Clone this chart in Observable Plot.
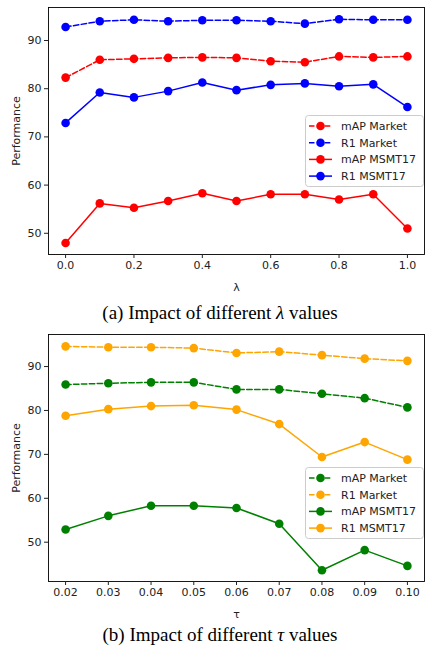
<!DOCTYPE html>
<html><head><meta charset="utf-8">
<script src="https://cdn.jsdelivr.net/npm/d3@7"></script>
<script src="https://cdn.jsdelivr.net/npm/@observablehq/plot@0.6"></script>
<style>
body{margin:0;background:#fff;}
#wrap{position:relative;width:425px;height:651px;overflow:hidden;background:#fff;}
.fig{position:absolute;left:0;}
.cap{position:absolute;left:7.5px;width:425px;text-align:center;font-family:"Liberation Serif","DejaVu Serif",serif;font-size:19px;line-height:22px;color:#000;white-space:nowrap;}
.leg{position:absolute;}
</style></head>
<body><div id="wrap"></div>
<script>
// ---- data ----
const lambdaValues = [0.0, 0.1, 0.2, 0.3, 0.4, 0.5, 0.6, 0.7, 0.8, 0.9, 1.0];
const mapMarketA = [82.3, 86.0, 86.2, 86.4, 86.5, 86.4, 85.7, 85.5, 86.7, 86.5, 86.7];
const r1MarketA  = [92.8, 94.0, 94.3, 94.0, 94.2, 94.2, 94.0, 93.5, 94.4, 94.3, 94.3];
const mapMsmtA   = [48.0, 56.2, 55.3, 56.7, 58.3, 56.7, 58.1, 58.1, 57.0, 58.1, 51.0];
const r1MsmtA    = [72.9, 79.2, 78.2, 79.5, 81.3, 79.7, 80.8, 81.1, 80.5, 80.9, 76.2];

const tauValues = [0.02, 0.03, 0.04, 0.05, 0.06, 0.07, 0.08, 0.09, 0.10];
const mapMarketB = [85.9, 86.2, 86.4, 86.4, 84.8, 84.8, 83.8, 82.8, 80.7];
const r1MarketB  = [94.6, 94.4, 94.4, 94.2, 93.1, 93.4, 92.6, 91.8, 91.3];
const mapMsmtB   = [52.9, 56.0, 58.3, 58.3, 57.8, 54.2, 43.6, 48.2, 44.6];
const r1MsmtB    = [78.8, 80.3, 81.0, 81.2, 80.2, 76.9, 69.4, 72.8, 68.8];

const seriesNames = ["mAP Market", "R1 Market", "mAP MSMT17", "R1 MSMT17"];
const lambdaTicks = [0.0, 0.2, 0.4, 0.6, 0.8, 1.0];
const tauTicks = [0.02, 0.03, 0.04, 0.05, 0.06, 0.07, 0.08, 0.09, 0.10];
const yTicks = [50, 60, 70, 80, 90];
const captionA = "(a) Impact of different <i>λ</i> values";
const captionB = "(b) Impact of different <i>τ</i> values";

// ---- styles ----
const dashedSeries = {"mAP Market": true, "R1 Market": true, "mAP MSMT17": false, "R1 MSMT17": false};
const DASH = "5.5,2.4";

const wrap = document.getElementById("wrap");

function makeChart(cfg) {
  const vals = [cfg.s0, cfg.s1, cfg.s2, cfg.s3];
  const rows = seriesNames.flatMap((name, k) => cfg.xs.map((x, i) => ({x, y: vals[k][i], name})));
  const marks = [];
  seriesNames.forEach(name => {
    const d = rows.filter(r => r.name === name);
    marks.push(Plot.line(d, {x: "x", y: "y", stroke: cfg.colors[name], strokeWidth: 1.5,
      strokeDasharray: dashedSeries[name] ? DASH : null}));
    marks.push(Plot.dot(d, {x: "x", y: "y", r: 4.3, fill: cfg.colors[name], stroke: null}));
  });
  marks.push(Plot.frame({stroke: "#000", strokeWidth: 0.9}));
  marks.push(Plot.axisX({ticks: cfg.xTicks, tickFormat: cfg.xFmt, tickSize: 4, tickPadding: 3,
    label: cfg.xLabel, labelAnchor: "center", labelArrow: "none", labelOffset: 36}));
  marks.push(Plot.axisY({ticks: yTicks, tickSize: 4, tickPadding: 3,
    label: "Performance", labelAnchor: "center", labelArrow: "none", labelOffset: 36}));
  const svg = Plot.plot({
    width: 425, height: 300,
    marginLeft: 48, marginRight: 1, marginTop: 7, marginBottom: 46,
    style: {fontFamily: "DejaVu Sans", fontSize: "11px", color: "#222", background: "transparent"},
    x: {domain: cfg.xDomain},
    y: {domain: cfg.yDomain},
    marks
  });
  const div = document.createElement("div");
  div.className = "fig";
  div.style.top = cfg.top + "px";
  div.appendChild(svg);
  wrap.appendChild(div);

  // legend
  const lw = 118, lh = 71;
  const leg = d3.create("svg").attr("width", lw + 2).attr("height", lh + 2)
    .attr("class", "leg").style("left", cfg.legLeft + "px").style("top", cfg.legTop + "px").style("position", "absolute");
  leg.append("rect").attr("x", 0.5).attr("y", 0.5).attr("width", lw).attr("height", lh)
    .attr("rx", 3).attr("fill", "rgba(255,255,255,0.8)").attr("stroke", "#cccccc");
  seriesNames.forEach((name, k) => {
    const yy = 11 + k * 16.7;
    leg.append("line").attr("x1", 4).attr("x2", 27).attr("y1", yy).attr("y2", yy)
      .attr("stroke", cfg.colors[name]).attr("stroke-width", 1.5)
      .attr("stroke-dasharray", dashedSeries[name] ? DASH : null);
    leg.append("circle").attr("cx", 15.5).attr("cy", yy).attr("r", 4.3).attr("fill", cfg.colors[name]);
    leg.append("text").attr("x", 36).attr("y", yy).attr("dy", "0.36em")
      .attr("font-family", "DejaVu Sans").attr("font-size", 11).attr("fill", "#222").text(name);
  });
  wrap.appendChild(leg.node());

  const cap = document.createElement("div");
  cap.className = "cap";
  cap.style.top = cfg.capTop + "px";
  cap.innerHTML = cfg.caption;
  wrap.appendChild(cap);
}

makeChart({
  xs: lambdaValues, s0: mapMarketA, s1: r1MarketA, s2: mapMsmtA, s3: r1MsmtA,
  colors: {"mAP Market": "red", "R1 Market": "blue", "mAP MSMT17": "red", "R1 MSMT17": "blue"},
  xTicks: lambdaTicks, xFmt: d3.format(".1f"), xDomain: [-0.05, 1.05], yDomain: [45.6, 96.85],
  xLabel: "λ", top: 0, legLeft: 305, legTop: 115, capTop: 302, caption: captionA
});
makeChart({
  xs: tauValues, s0: mapMarketB, s1: r1MarketB, s2: mapMsmtB, s3: r1MsmtB,
  colors: {"mAP Market": "green", "R1 Market": "orange", "mAP MSMT17": "green", "R1 MSMT17": "orange"},
  xTicks: tauTicks, xFmt: d3.format(".2f"), xDomain: [0.016, 0.104], yDomain: [41.05, 97.3],
  xLabel: "τ", top: 327, legLeft: 305, legTop: 467, capTop: 624, caption: captionB
});
</script></body></html>
